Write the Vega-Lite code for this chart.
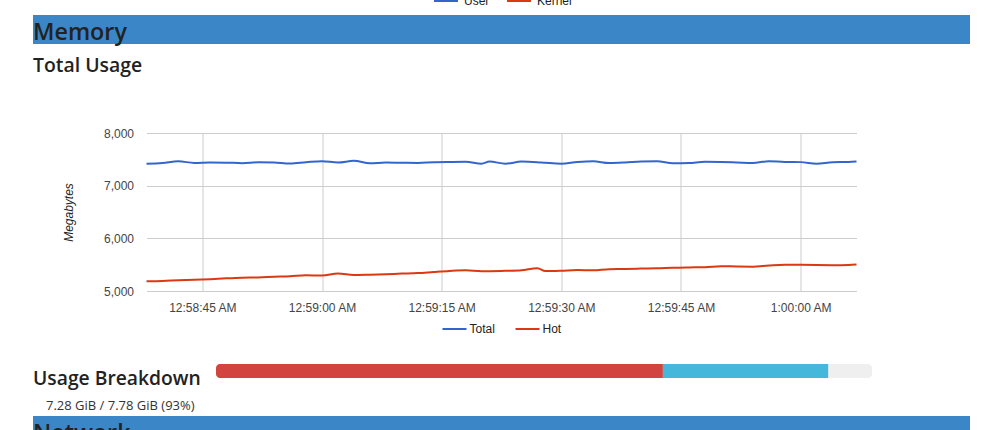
{
  "$schema": "https://vega.github.io/schema/vega-lite/v6.json",
  "padding": {"left": 33, "top": -20, "right": 30, "bottom": 0},
  "background": "white",
  "spacing": 0,
  "bounds": "flush",
  "center": true,
  "resolve": {"scale": {"color": "independent", "x": "independent", "y": "independent"}, "legend": {"color": "independent"}},
  "config": {
    "view": {"stroke": null},
    "font": "Open Sans",
    "title": {"anchor": "start", "frame": "group", "font": "Open Sans", "fontWeight": 600, "color": "#222"},
    "axis": {"labelFont": "Liberation Sans", "labelFontSize": 12, "labelColor": "#444", "gridColor": "#cccccc", "gridOpacity": 1, "domain": false, "ticks": false, "tickSize": 0}
  },
  "vconcat": [
    {
      "width": 937,
      "height": 35,
      "data": {"values": [{"cpu": "User"}, {"cpu": "Kernel"}]},
      "mark": {"type": "line", "strokeWidth": 2},
      "encoding": {
        "color": {
          "field": "cpu", "type": "nominal",
          "scale": {"domain": ["User", "Kernel"], "range": ["#3366cc", "#dc3912"]},
          "legend": {"orient": "none", "legendX": 400, "legendY": 8, "direction": "horizontal", "title": null, "symbolType": "stroke", "symbolSize": 576, "symbolStrokeWidth": 2, "labelFont": "Liberation Sans", "labelFontSize": 12, "labelColor": "#222", "labelOffset": 5, "columnPadding": 13}
        }
      }
    },
    {
      "width": 937,
      "height": 29,
      "data": {"values": [{"section": "Memory"}]},
      "title": {"text": "Memory", "fontSize": 23.3, "offset": -30},
      "mark": {"type": "rect", "fill": "#3b86c6"}
    },
    {
      "width": 937,
      "height": 89,
      "data": {"values": [{"section": "Total Usage"}]},
      "title": {"text": "Total Usage", "fontSize": 19.4, "offset": -32},
      "mark": {"type": "rect", "opacity": 0}
    },
    {
      "width": 710,
      "height": 158,
      "data": {"values": [
        {"time": "2017-01-01T00:58:38Z", "Total": 7415, "Hot": 5185},
        {"time": "2017-01-01T00:58:40Z", "Total": 7430, "Hot": 5192},
        {"time": "2017-01-01T00:58:42Z", "Total": 7462, "Hot": 5205},
        {"time": "2017-01-01T00:58:44Z", "Total": 7432, "Hot": 5215},
        {"time": "2017-01-01T00:58:46Z", "Total": 7440, "Hot": 5225},
        {"time": "2017-01-01T00:58:48Z", "Total": 7437, "Hot": 5240},
        {"time": "2017-01-01T00:58:50Z", "Total": 7428, "Hot": 5252},
        {"time": "2017-01-01T00:58:52Z", "Total": 7445, "Hot": 5258},
        {"time": "2017-01-01T00:58:54Z", "Total": 7440, "Hot": 5270},
        {"time": "2017-01-01T00:58:56Z", "Total": 7421, "Hot": 5280},
        {"time": "2017-01-01T00:58:58Z", "Total": 7445, "Hot": 5300},
        {"time": "2017-01-01T00:59:00Z", "Total": 7465, "Hot": 5293},
        {"time": "2017-01-01T00:59:02Z", "Total": 7440, "Hot": 5332},
        {"time": "2017-01-01T00:59:04Z", "Total": 7472, "Hot": 5302},
        {"time": "2017-01-01T00:59:06Z", "Total": 7425, "Hot": 5310},
        {"time": "2017-01-01T00:59:08Z", "Total": 7440, "Hot": 5320},
        {"time": "2017-01-01T00:59:10Z", "Total": 7434, "Hot": 5330},
        {"time": "2017-01-01T00:59:12Z", "Total": 7432, "Hot": 5340},
        {"time": "2017-01-01T00:59:14Z", "Total": 7445, "Hot": 5362},
        {"time": "2017-01-01T00:59:16Z", "Total": 7450, "Hot": 5382},
        {"time": "2017-01-01T00:59:18Z", "Total": 7453, "Hot": 5394},
        {"time": "2017-01-01T00:59:20Z", "Total": 7418, "Hot": 5376},
        {"time": "2017-01-01T00:59:21Z", "Total": 7459, "Hot": 5377},
        {"time": "2017-01-01T00:59:23Z", "Total": 7416, "Hot": 5384},
        {"time": "2017-01-01T00:59:25Z", "Total": 7458, "Hot": 5395},
        {"time": "2017-01-01T00:59:27Z", "Total": 7446, "Hot": 5433},
        {"time": "2017-01-01T00:59:28Z", "Total": 7435, "Hot": 5378},
        {"time": "2017-01-01T00:59:30Z", "Total": 7418, "Hot": 5385},
        {"time": "2017-01-01T00:59:32Z", "Total": 7448, "Hot": 5398},
        {"time": "2017-01-01T00:59:34Z", "Total": 7462, "Hot": 5392},
        {"time": "2017-01-01T00:59:36Z", "Total": 7430, "Hot": 5415},
        {"time": "2017-01-01T00:59:38Z", "Total": 7440, "Hot": 5418},
        {"time": "2017-01-01T00:59:40Z", "Total": 7458, "Hot": 5425},
        {"time": "2017-01-01T00:59:42Z", "Total": 7462, "Hot": 5430},
        {"time": "2017-01-01T00:59:44Z", "Total": 7425, "Hot": 5442},
        {"time": "2017-01-01T00:59:46Z", "Total": 7430, "Hot": 5448},
        {"time": "2017-01-01T00:59:48Z", "Total": 7452, "Hot": 5452},
        {"time": "2017-01-01T00:59:50Z", "Total": 7448, "Hot": 5472},
        {"time": "2017-01-01T00:59:52Z", "Total": 7440, "Hot": 5465},
        {"time": "2017-01-01T00:59:54Z", "Total": 7430, "Hot": 5462},
        {"time": "2017-01-01T00:59:56Z", "Total": 7465, "Hot": 5484},
        {"time": "2017-01-01T00:59:58Z", "Total": 7450, "Hot": 5500},
        {"time": "2017-01-01T01:00:00Z", "Total": 7447, "Hot": 5497},
        {"time": "2017-01-01T01:00:02Z", "Total": 7418, "Hot": 5492},
        {"time": "2017-01-01T01:00:04Z", "Total": 7445, "Hot": 5490},
        {"time": "2017-01-01T01:00:06Z", "Total": 7450, "Hot": 5495},
        {"time": "2017-01-01T01:00:07Z", "Total": 7459, "Hot": 5503}
      ]},
      "transform": [{"fold": ["Total", "Hot"], "as": ["series", "mb"]}],
      "mark": {"type": "line", "strokeWidth": 2, "interpolate": "monotone"},
      "encoding": {
        "x": {
          "field": "time", "type": "temporal",
          "scale": {"type": "utc", "nice": false},
          "axis": {"format": "%-I:%M:%S %p", "tickCount": 6, "title": null, "grid": true, "labelPadding": 11}
        },
        "y": {
          "field": "mb", "type": "quantitative",
          "scale": {"domain": [5000, 8000], "nice": false, "zero": false},
          "axis": {"values": [5000, 6000, 7000, 8000], "grid": true, "labelPadding": 13, "title": "Megabytes", "titleFont": "Liberation Sans", "titleFontSize": 12, "titleFontStyle": "italic", "titleFontWeight": "normal", "titleColor": "#222", "titlePadding": 28}
        },
        "color": {
          "field": "series", "type": "nominal",
          "scale": {"domain": ["Total", "Hot"], "range": ["#3366cc", "#dc3912"]},
          "legend": {"orient": "none", "legendX": 295, "legendY": 183, "direction": "horizontal", "title": null, "symbolType": "stroke", "symbolSize": 576, "symbolStrokeWidth": 2, "labelFont": "Liberation Sans", "labelFontSize": 12, "labelColor": "#222", "labelOffset": 2, "columnPadding": 16}
        }
      }
    },
    {
      "width": 937,
      "height": 73,
      "data": {"values": [{"section": "gap"}]},
      "mark": {"type": "rect", "opacity": 0}
    },
    {
      "width": 937,
      "height": 14,
      "title": {"text": "Usage Breakdown", "fontSize": 19.3, "offset": -25},
      "data": {"values": [
        {"part": "Capacity", "from": 0, "to": 7.78},
        {"part": "Used", "from": 0, "to": 5.30},
        {"part": "Cached", "from": 5.30, "to": 7.26}
      ]},
      "encoding": {
        "x": {"field": "from", "type": "quantitative", "scale": {"domain": [0, 7.78], "range": [183, 839], "nice": false, "zero": false}, "axis": null},
        "x2": {"field": "to"}
      },
      "layer": [
        {
          "transform": [{"filter": "datum.part === 'Capacity'"}],
          "mark": {"type": "rect", "cornerRadius": 4, "fill": "#efefef"}
        },
        {
          "transform": [{"filter": "datum.part === 'Used'"}],
          "mark": {"type": "rect", "cornerRadiusTopLeft": 4, "cornerRadiusBottomLeft": 4, "fill": "#d2443f"}
        },
        {
          "transform": [{"filter": "datum.part === 'Cached'"}],
          "mark": {"type": "rect", "fill": "#44b7da"}
        }
      ]
    },
    {
      "width": 937,
      "height": 38,
      "data": {"values": [{"summary": "7.28 GiB / 7.78 GiB (93%)"}]},
      "title": {"text": "7.28 GiB / 7.78 GiB (93%)", "fontSize": 13, "fontWeight": "normal", "color": "#333", "dx": 13, "offset": -35},
      "mark": {"type": "rect", "opacity": 0}
    },
    {
      "width": 937,
      "height": 29,
      "data": {"values": [{"section": "Network"}]},
      "title": {"text": "Network", "fontSize": 23.3, "offset": -30},
      "mark": {"type": "rect", "fill": "#3b86c6"}
    }
  ]
}
